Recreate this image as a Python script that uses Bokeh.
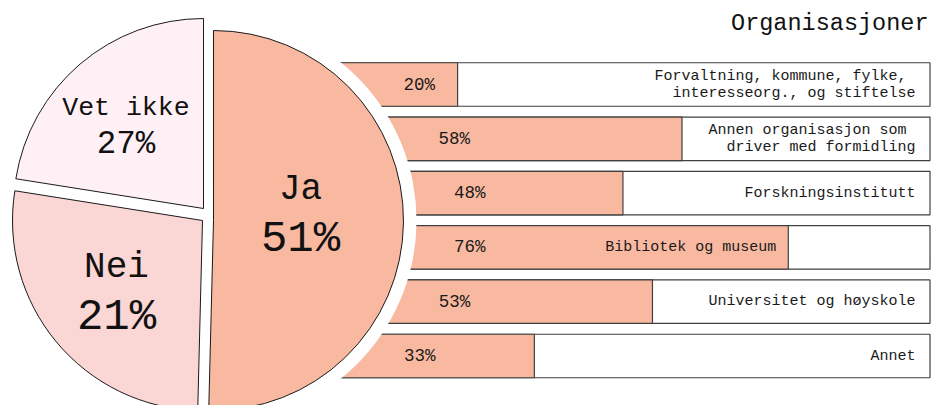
import math
from bokeh.plotting import figure
from bokeh.models import Range1d, ColumnDataSource
from bokeh.embed import file_html
from bokeh.resources import INLINE
from bokeh.core.properties import value

# ---------------- data ----------------
title_text = "Organisasjoner"
pie_names = ["Ja", "Nei", "Vet ikke"]
pie_pct_labels = ["51%", "21%", "27%"]
pie_shares = [50.4, 27.1, 22.5]          # slice sizes as drawn in the picture
bar_categories = [
    "Forvaltning, kommune, fylke,\u00a0\ninteresseorg., og stiftelse",
    "Annen organisasjon som\u00a0\ndriver med formidling",
    "Forskningsinstitutt",
    "Bibliotek og museum",
    "Universitet og høyskole",
    "Annet",
]
bar_values = [20, 58, 48, 76, 53, 33]

# ---------------- style / layout ----------------
W, H = 946, 405
FONT = value("Liberation Mono")
SALMON = "#F8B9A0"
pie_colors = [SALMON, "#FAD6D4", "#FFF0F6"]
pie_center = (208, 191)
pie_radius = 190
pie_explode = [(5, -6), (-6, -6), (-5, 6)]
halo = 13
pie_font = [(36, 44), (36, 44), (26.5, 32.5)]
label_nudge = [(7, 7), (0, -0.5), (-2, -6)]

bar_left, bar_right = 339, 929.5
bar_top_center, bar_pitch, bar_height = 321, 54.3, 43.5
cat_fs = 15
pct_fs = 17.5

p = figure(width=W, height=H, x_range=Range1d(0, W), y_range=Range1d(0, H),
           output_backend="svg", toolbar_location=None, min_border=0)
p.axis.visible = False
p.grid.visible = False
p.outline_line_color = None
p.background_fill_color = "white"
p.border_fill_color = "white"

# ---------------- bars ----------------
scale = (bar_right - bar_left) / 100.0
ys = [bar_top_center - i * bar_pitch for i in range(len(bar_values))]
ends = [bar_left + v * scale for v in bar_values]
bsrc = ColumnDataSource(dict(y=ys, left=[bar_left] * len(ys), right=[bar_right] * len(ys), end=ends))
p.hbar(y="y", left="left", right="right", height=bar_height, source=bsrc,
       fill_color="white", line_color="#404040", line_width=1.2)
p.hbar(y="y", left="left", right="end", height=bar_height, source=bsrc,
       fill_color=SALMON, line_color="#404040", line_width=1.2)

# ---------------- pie ----------------
total = sum(pie_shares)
theta = 0.0
wx, wy, starts, stops, mids, halfs = [], [], [], [], [], []
for i, s in enumerate(pie_shares):
    span = s / total * 2 * math.pi
    t0, t1 = theta, theta + span
    theta = t1
    wx.append(pie_center[0] + pie_explode[i][0])
    wy.append(pie_center[1] + pie_explode[i][1])
    starts.append(math.pi / 2 - t0)
    stops.append(math.pi / 2 - t1)
    mids.append((t0 + t1) / 2)
    halfs.append(span / 2)

# white halo around the first slice, hiding the bar starts
p.wedge(x=wx[0], y=wy[0], radius=pie_radius + halo, start_angle=starts[0], end_angle=stops[0],
        direction="clock", fill_color="white", line_color=None)

psrc = ColumnDataSource(dict(x=wx, y=wy, s=starts, e=stops, c=pie_colors))
p.wedge(x="x", y="y", radius=pie_radius, start_angle="s", end_angle="e", direction="clock",
        fill_color="c", line_color="#1a1a1a", line_width=1, source=psrc)

for i in range(len(pie_names)):
    a = halfs[i]
    d = 2 * pie_radius * math.sin(a) / (3 * a)
    ax = wx[i] + d * math.sin(mids[i]) + label_nudge[i][0]
    ay = wy[i] + d * math.cos(mids[i]) + label_nudge[i][1]
    fsn, fsp = pie_font[i]
    gap = 0.31 * (fsn + fsp)
    p.text(x=[ax], y=[ay + gap], text=[pie_names[i]], text_font=FONT,
           text_font_size=f"{fsn}px", text_align="center", text_baseline="alphabetic",
           text_color="#111111")
    p.text(x=[ax], y=[ay - gap], text=[pie_pct_labels[i]], text_font=FONT,
           text_font_size=f"{fsp}px", text_align="center", text_baseline="alphabetic",
           text_color="#111111")

# ---------------- bar texts ----------------
jx, jy = wx[0], wy[0]
pct_x = [jx + math.sqrt((pie_radius + halo) ** 2 - (y - jy) ** 2) + 55 for y in ys]
p.text(x=pct_x, y=ys, text=[f"{v}%" for v in bar_values], text_font=FONT,
       text_font_size=f"{pct_fs}px", text_align="center", text_baseline="middle",
       text_color="#1a1a1a")

char_w = 0.6 * cat_fs
lab_x = []
for cat, e in zip(bar_categories, ends):
    width = max(len(l) for l in cat.split("\n")) * char_w
    x = bar_right - 14.5
    if x - width < e + 10:
        x = e - 12
    lab_x.append(x)
p.text(x=lab_x, y=ys, text=bar_categories, text_font=FONT, text_font_size=f"{cat_fs}px",
       text_align="right", text_baseline="middle", text_line_height=1.0, text_color="#1a1a1a")

# ---------------- title ----------------
p.text(x=[bar_right - 1.5], y=[382], text=[title_text], text_font=FONT, text_font_size="23.5px",
       text_align="right", text_baseline="alphabetic", text_color="#111111")

open("out.html", "w").write(file_html(p, INLINE))
